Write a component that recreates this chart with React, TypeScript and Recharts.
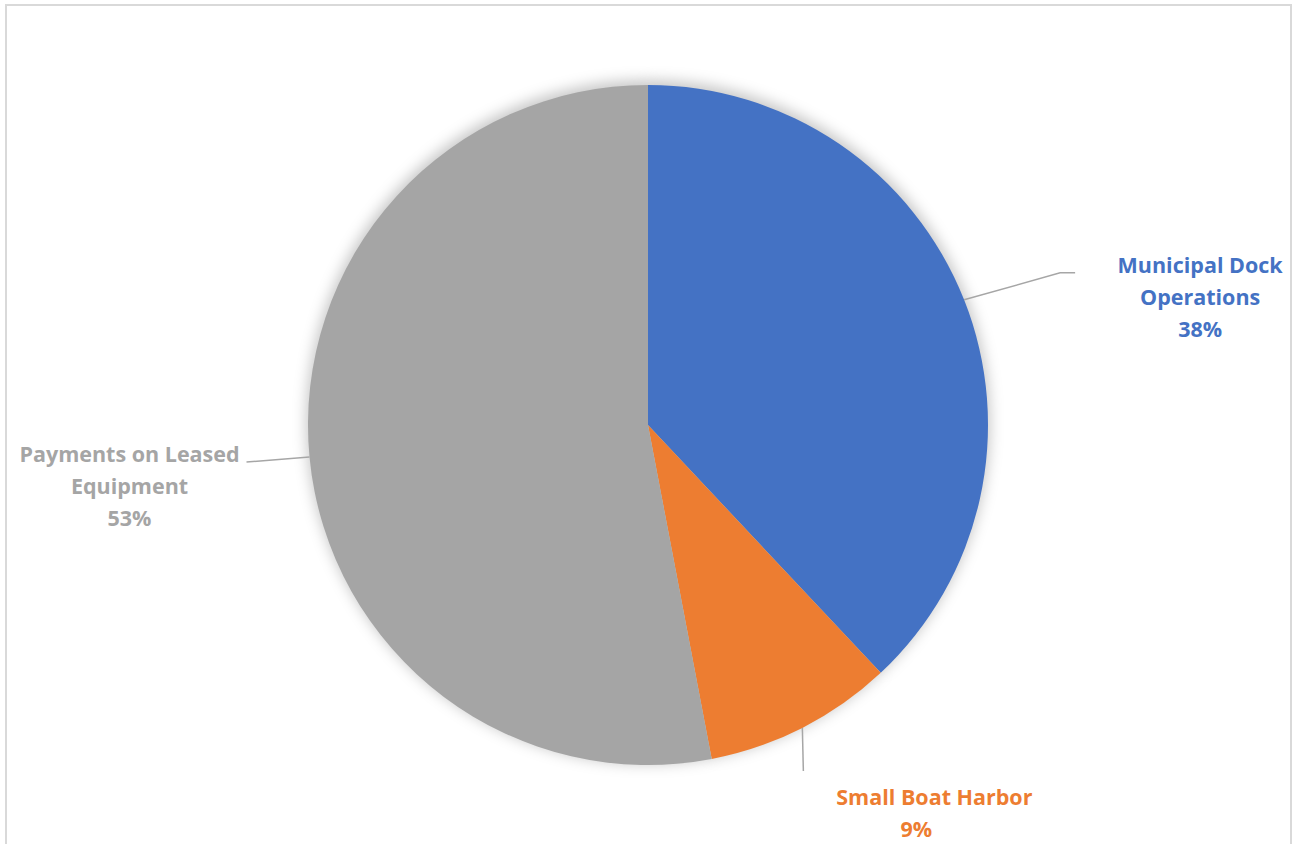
import React from 'react';
import { PieChart, Pie, Cell } from 'recharts';

const categories = ['Municipal Dock Operations', 'Small Boat Harbor', 'Payments on Leased Equipment'];
const values = [38, 9, 53];
const labelLines = [['Municipal Dock', 'Operations', '38%'], ['Small Boat Harbor', '9%'], ['Payments on Leased', 'Equipment', '53%']];
const colors = ['#4472C4', '#ED7D31', '#A5A5A5'];

const data = categories.map((name, i) => ({ name, value: values[i] }));

const RAD = Math.PI / 180;

// per-slice label styling: elbow point offset from edge, text anchor offset from edge
const labelStyle = [
  { elbow: [96, -27], end: [111, -27], text: [236, -27], second: 0 },
  { elbow: [1, 43], end: [1, 43], text: [132, 77], second: -18 },
  { elbow: [-63, 5], end: [-63, 5], text: [-180, 5], second: 0 },
];

const renderLabel = (props: any) => {
  const { cx, cy, midAngle, outerRadius, index } = props;
  const ex = cx + outerRadius * Math.cos(-midAngle * RAD);
  const ey = cy + outerRadius * Math.sin(-midAngle * RAD);
  const s = labelStyle[index];
  const lines = labelLines[index];
  const tx = ex + s.text[0];
  const ty = ey + s.text[1];
  return (
    <g key={`lbl-${index}`}>
      <polyline
        points={`${ex},${ey} ${ex + s.elbow[0]},${ey + s.elbow[1]} ${ex + s.end[0]},${ey + s.end[1]}`}
        fill="none"
        stroke="#A6A6A6"
        strokeWidth={1.5}
      />
      <text
        x={tx}
        y={ty}
        textAnchor="middle"
        fill={colors[index]}
        fontFamily="'Open Sans', sans-serif"
        fontWeight={700}
        fontSize={21.5}
      >
        {lines.map((l, k) => (
          <tspan key={k} x={k === lines.length - 1 ? tx + s.second : tx} dy={k === 0 ? 0 : 32}>
            {l}
          </tspan>
        ))}
      </text>
    </g>
  );
};

export default function App() {
  return (
    <div style={{ position: 'absolute', left: 0, top: 0, width: 1294, height: 844, overflow: 'hidden', background: '#fff' }}>
      <div
        style={{
          position: 'absolute',
          left: 5,
          top: 4,
          width: 1287,
          height: 900,
          border: '2px solid #D9D9D9',
          boxSizing: 'border-box',
        }}
      />
      <div style={{ position: 'absolute', left: 0, top: 0 }}>
        <PieChart width={1294} height={844}>
          <Pie
            data={data}
            dataKey="value"
            cx={643}
            cy={417}
            outerRadius={342}
            startAngle={90}
            endAngle={-270}
            stroke="none"
            labelLine={false}
            isAnimationActive={false}
          >
            {data.map((d, i) => (
              <Cell key={d.name} fill="#000" fillOpacity={0.22} style={{ filter: 'blur(7px)' }} />
            ))}
          </Pie>
          <Pie
            data={data}
            dataKey="value"
            nameKey="name"
            cx={643}
            cy={420}
            outerRadius={340}
            startAngle={90}
            endAngle={-270}
            stroke="none"
            label={renderLabel}
            labelLine={false}
            isAnimationActive={false}
          >
            {data.map((d, i) => (
              <Cell key={d.name} fill={colors[i]} />
            ))}
          </Pie>
        </PieChart>
      </div>
    </div>
  );
}
